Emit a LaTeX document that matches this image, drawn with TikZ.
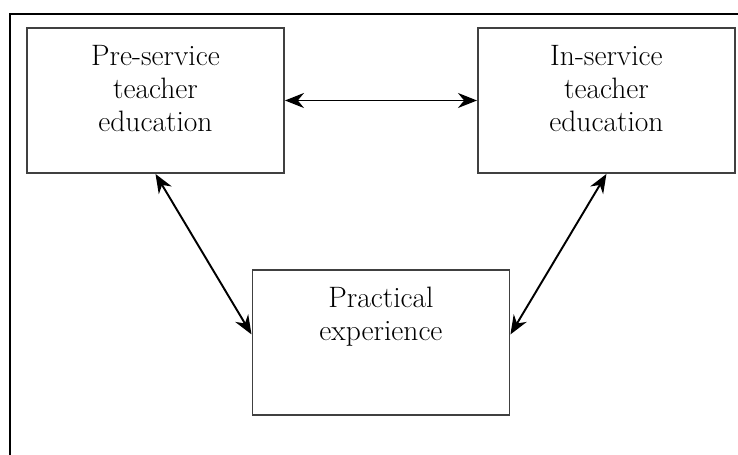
\documentclass[tikz,border=0pt]{standalone}
\usetikzlibrary{positioning, arrows.meta, calc}

\begin{document}
\begin{tikzpicture}[>={Stealth[length=3.8mm, width=3mm]}, node distance=3.84cm,
    font=\fontsize{16.8}{18.8}\selectfont,
    block/.style={draw=black!75, line width=1.1pt, minimum width=5.14cm, minimum height=2.9cm, inner sep=0pt},
    blocktext/.style={align=center, inner sep=0pt},
    link/.style={<->, line width=1.1pt}]

    \useasboundingbox (0,0) rectangle (14.76,9.1);

    % outer frame (only top and left edge show)
    \draw[line width=1.3pt] (0.2,0) -- (0.2,8.82) -- (14.76,8.82);

    % 1. Boxes
    \node[block] (pre) at (3.11,7.09) {};
    \node[block, right=of pre] (ins) {};
    \node[block, anchor=north] (prac) at ($(pre.south)!0.5!(ins.south) + (0,-1.9)$) {};

    % 2. Text, hung from the top of each box
    \node[blocktext, below=0.36cm of pre.north] (preText) {Pre-service\\teacher\\education};
    \node[blocktext, below=0.36cm of ins.north] (insText) {In-service\\teacher\\education};
    \node[blocktext, below=0.36cm of prac.north] (pracText) {Practical\\experience};

    % 3. Two-way arrows
    \draw[link] (pre.east) -- (ins.west);
    \draw[link] (pre.south) -- ([yshift=0.16cm]prac.west);
    \draw[link] (ins.south) -- ([yshift=0.16cm]prac.east);

\end{tikzpicture}
\end{document}
